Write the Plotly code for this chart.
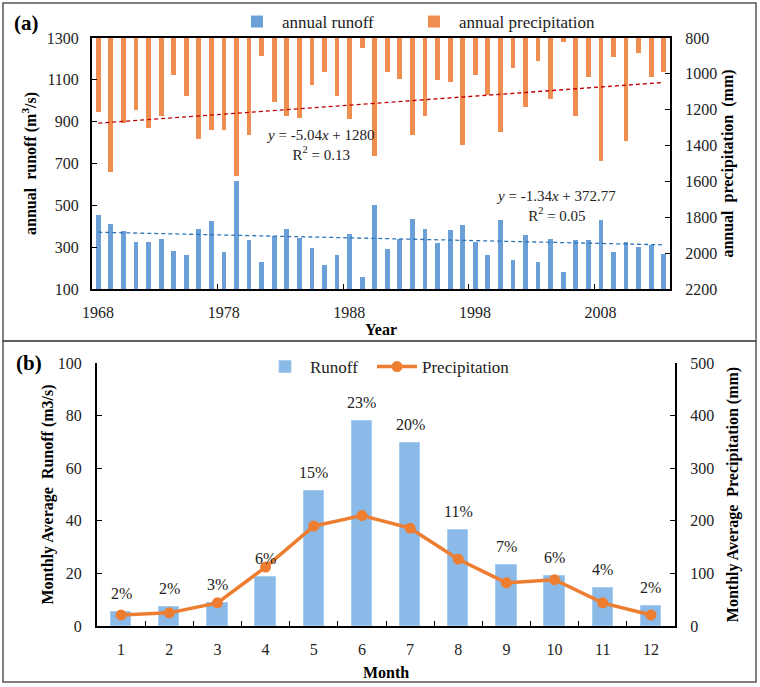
import plotly.graph_objects as go

# ---------------- data: panel (a) ----------------
years = list(range(1968, 2014))
annual_runoff = [455, 412, 378, 327, 327, 340, 282, 263, 385, 423, 278, 615,
                 335, 228, 354, 386, 343, 295, 215, 263, 362, 156, 500,
                 290, 340, 436, 386, 322, 380, 404, 327, 263, 428, 239, 359,
                 231, 340, 183, 332, 332, 428, 276, 327, 300, 308, 268]
annual_precip = [1212, 1549, 1272, 1199, 1304, 1237, 1005, 1125, 1364, 1311, 1311, 1571,
                 1341, 901, 1155, 1237, 1244, 1063, 992, 1125, 1250, 856, 1459,
                 992, 1030, 1341, 1237, 1035, 1045, 1394, 1005, 1119, 1325, 970, 1185,
                 931, 1142, 821, 1235, 1015, 1487, 908, 1375, 886, 1020, 992]
runoff_slope, runoff_icpt = -1.34, 372.77
precip_slope, precip_icpt = -5.04, 1280
year_ticks = ["1968", "1978", "1988", "1998", "2008"]

# ---------------- data: panel (b) ----------------
months = ["1", "2", "3", "4", "5", "6", "7", "8", "9", "10", "11", "12"]
monthly_runoff = [5.4, 7.1, 8.6, 18.7, 51.4, 77.9, 69.7, 36.5, 23.2, 19.1, 14.3, 7.6]
monthly_precip = [21, 25, 44, 112, 190, 210, 186, 127, 82, 88, 44, 21]
runoff_share = ["2%", "2%", "3%", "6%", "15%", "23%", "20%", "11%", "7%", "6%", "4%", "2%"]

# trend lines from the displayed regression equations (x = 1..n)
idx = list(range(1, len(years) + 1))
runoff_trend = [runoff_slope * i + runoff_icpt for i in idx]
precip_trend = [precip_slope * i + precip_icpt for i in idx]

W, H = 760, 687
def px(x):
    return x / W
def py(y):
    return 1 - y / H

FONT = "Liberation Serif"
BLUE = "#6A9FD8"
ORANGE = "#EF8E4F"

fig = go.Figure()

# panel (a)
fig.add_trace(go.Bar(x=years, y=[v - 100 for v in annual_runoff], base=100,
                     name="annual runoff", marker=dict(color=BLUE, line=dict(width=0)),
                     width=0.38, xaxis="x", yaxis="y", legend="legend"))
fig.add_trace(go.Bar(x=years, y=[v - 800 for v in annual_precip], base=800,
                     name="annual precipitation", marker=dict(color=ORANGE, line=dict(width=0)),
                     width=0.38, xaxis="x", yaxis="y2", legend="legend3"))
fig.add_trace(go.Scatter(x=years, y=runoff_trend, mode="lines", showlegend=False,
                         line=dict(color="#2E75B6", width=1.3, dash="4px,3px"),
                         xaxis="x", yaxis="y"))
fig.add_trace(go.Scatter(x=years, y=precip_trend, mode="lines", showlegend=False,
                         line=dict(color="#C00000", width=1.3, dash="4px,3px"),
                         xaxis="x", yaxis="y2"))

# panel (b)
fig.add_trace(go.Bar(x=months, y=monthly_runoff, name="Runoff",
                     marker=dict(color="#8BBAE8", line=dict(color="#A8CCEF", width=1)),
                     width=0.42, xaxis="x2", yaxis="y3", legend="legend2"))
fig.add_trace(go.Scatter(x=months, y=monthly_precip, name="Precipitation",
                         mode="lines+markers",
                         line=dict(color="#ED7D31", width=3.5),
                         marker=dict(color="#ED7D31", size=11),
                         xaxis="x2", yaxis="y4", legend="legend4"))

axis_common = dict(showgrid=False, zeroline=False, showline=True, linecolor="black",
                   linewidth=2, ticks="inside", ticklen=5, tickcolor="black",
                   automargin=False,
                   tickfont=dict(family=FONT, size=16, color="#222"))

# percentage labels above each monthly bar (category axis -> serial index)
share_labels = [
    dict(text=s, x=i, y=v, xref="x2", yref="y3", showarrow=False,
         yanchor="bottom", yshift=8, font=dict(family=FONT, size=16, color="#222"))
    for i, (v, s) in enumerate(zip(monthly_runoff, runoff_share))
]

def leg(x, y):
    return dict(orientation="h", x=px(x), xanchor="left", y=py(y), yanchor="middle",
                bgcolor="rgba(0,0,0,0)", font=dict(family=FONT, size=17, color="#222"),
                itemwidth=40)

fig.update_layout(
    width=W, height=H, margin=dict(l=0, r=0, t=0, b=0, autoexpand=False),
    paper_bgcolor="white", plot_bgcolor="rgba(0,0,0,0)",
    font=dict(family=FONT, size=16, color="black"),
    barmode="overlay", bargap=0,
    xaxis=dict(domain=[px(92), px(670)], anchor="y", range=[1967.5, 2013.5],
               tickvals=[1967.5, 1977.5, 1987.5, 1997.5, 2007.5], ticktext=year_ticks,
               ticklabelshift=6, ticklabelstandoff=8, mirror=True,
               title=dict(text="<b>Year</b>", standoff=2, font=dict(size=16)),
               **axis_common),
    yaxis=dict(domain=[py(289), py(38)], anchor="x", range=[100, 1300],
               tickvals=[100, 300, 500, 700, 900, 1100, 1300], ticklabelstandoff=8,
               title=dict(text="<b>annual\u00a0\u00a0runoff (m<sup>3</sup>/s)</b>", standoff=6,
                          font=dict(size=16)),
               **axis_common),
    yaxis2=dict(overlaying="y", side="right", anchor="x", range=[2200, 800],
                tickvals=[800, 1000, 1200, 1400, 1600, 1800, 2000, 2200], ticklabelstandoff=10,
                title=dict(text="<b>annual\u00a0\u00a0precipitation\u00a0\u00a0(mm)</b>", standoff=6,
                           font=dict(size=16)),
                **axis_common),
    xaxis2=dict(domain=[px(97), px(675)], anchor="y3", type="category",
                categoryorder="array", categoryarray=months, range=[-0.5, 11.5],
                tickson="boundaries", ticklabelstandoff=8,
                title=dict(text="<b>Month</b>", standoff=10, font=dict(size=16)),
                **axis_common),
    yaxis3=dict(domain=[py(626), py(363)], anchor="x2", range=[0, 100], dtick=20,
                ticklabelstandoff=10,
                title=dict(text="<b>Monthly Average\u00a0\u00a0Runoff (m3/s)</b>", standoff=0,
                           font=dict(size=16)),
                **axis_common),
    yaxis4=dict(overlaying="y3", side="right", anchor="x2", range=[0, 500], dtick=100,
                ticklabelstandoff=10,
                title=dict(text="<b>Monthly Average\u00a0\u00a0Precipitation (mm)</b>", standoff=14,
                           font=dict(size=16)),
                **axis_common),
    legend=leg(232, 22),
    legend3=leg(409, 22),
    legend2=leg(260, 367),
    legend4=leg(372, 367),
    shapes=[
        dict(type="rect", xref="paper", yref="paper", x0=px(3), x1=px(756),
             y0=py(341), y1=py(3), line=dict(color="#555", width=1.5)),
        dict(type="rect", xref="paper", yref="paper", x0=px(3), x1=px(756),
             y0=py(682), y1=py(341), line=dict(color="#555", width=1.5)),
    ],
    annotations=[
        dict(text="<b>(a)</b>", x=px(12), y=py(23), xref="paper", yref="paper",
             xanchor="left", yanchor="middle", showarrow=False,
             font=dict(family=FONT, size=21, color="black")),
        dict(text="<b>(b)</b>", x=px(14), y=py(363), xref="paper", yref="paper",
             xanchor="left", yanchor="middle", showarrow=False,
             font=dict(family=FONT, size=21, color="black")),
        dict(text="<i>y</i> = -5.04<i>x</i> + 1280<br>R<sup>2</sup> = 0.13",
             x=px(320), y=py(145), xref="paper", yref="paper", showarrow=False,
             xanchor="center", yanchor="middle",
             font=dict(family=FONT, size=15, color="#222")),
        dict(text="<i>y</i> = -1.34<i>x</i> + 372.77<br>R<sup>2</sup> = 0.05",
             x=px(556), y=py(206), xref="paper", yref="paper", showarrow=False,
             xanchor="center", yanchor="middle",
             font=dict(family=FONT, size=15, color="#222")),
    ] + share_labels,
)

fig.write_html("out.html", config={"displayModeBar": False},
               post_script="document.body.style.margin='0';")
